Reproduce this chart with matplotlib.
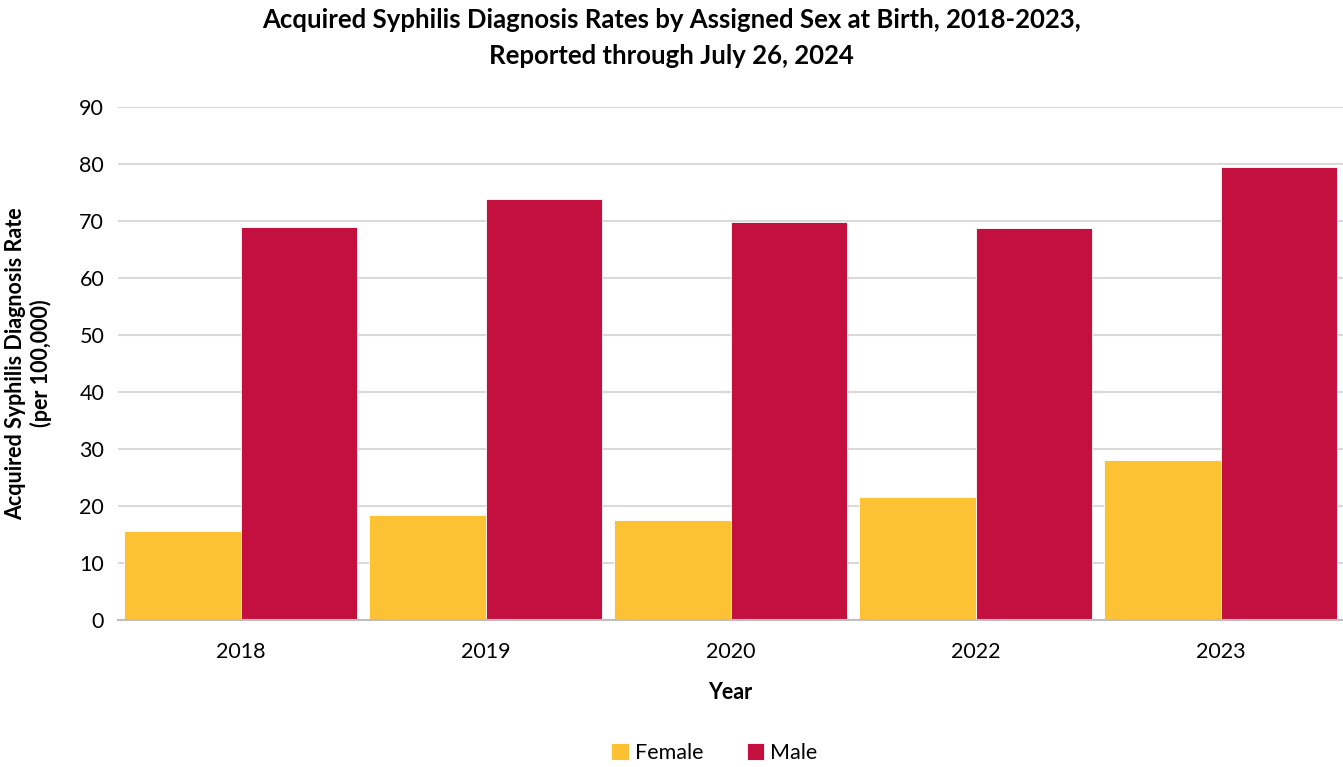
import numpy as np
import matplotlib.pyplot as plt

plt.rcParams['font.family'] = ['Lato', 'DejaVu Sans']

# data
years = ['2018', '2019', '2020', '2022', '2023']
female = [15.6, 18.4, 17.5, 21.6, 28.1]
male = [69.0, 73.9, 69.8, 68.8, 79.5]

fig = plt.figure(figsize=(13.43, 7.67), dpi=100)
ax = fig.add_axes([0.0879, 0.1917, 0.9121, 0.6688])

ind = np.arange(len(years))
w = 0.477
ax.bar(ind - w/2, female, width=w, color='#FDC134', edgecolor='white', linewidth=0.6, label='Female', zorder=3)
ax.bar(ind + w/2, male, width=w, color='#C3103E', edgecolor='white', linewidth=0.6, label='Male', zorder=3)

ax.set_xlim(-0.5, len(years) - 0.5)
ax.set_ylim(0, 90)
ax.set_yticks(range(0, 91, 10))
ax.set_xticks(ind)
ax.set_xticklabels(years)
ax.tick_params(axis='both', length=0, labelsize=15.5, colors='black')
ax.tick_params(axis='x', pad=16)
ax.tick_params(axis='y', pad=10)

ax.yaxis.grid(True, color='#D9D9D9', linewidth=1.5, zorder=0)
for s in ['top', 'right', 'left']:
    ax.spines[s].set_visible(False)
ax.spines['bottom'].set_color('#BFBFBF')
ax.spines['bottom'].set_linewidth(1.5)
ax.spines['bottom'].set_zorder(4)

ax.set_xlabel('Year', fontsize=15.5, fontweight='bold', labelpad=14)
ax.set_ylabel('Acquired Syphilis Diagnosis Rate\n(per 100,000)', fontsize=15.5, fontweight='bold', labelpad=20)

fig.suptitle('Acquired Syphilis Diagnosis Rates by Assigned Sex at Birth, 2018-2023,\nReported through July 26, 2024',
             x=0.5, y=0.99, fontsize=18.5, fontweight='bold', linespacing=1.6)

fig.legend(loc='lower center', bbox_to_anchor=(0.532, -0.02), ncol=2, frameon=False, fontsize=15.5,
           handlelength=0.8, handleheight=0.8, columnspacing=2.0, handletextpad=0.3)

plt.savefig('out.png', dpi=100)
